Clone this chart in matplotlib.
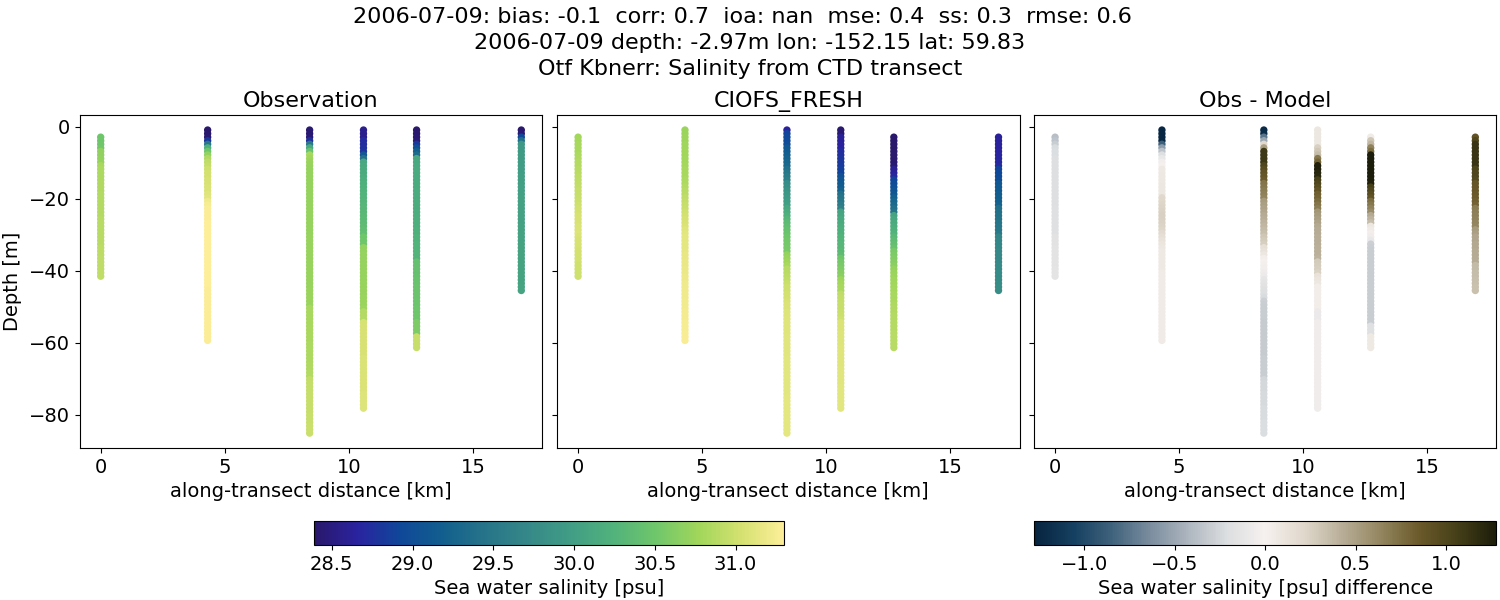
import numpy as np
import matplotlib
matplotlib.use("Agg")
from matplotlib import pyplot as plt
from matplotlib.colors import LinearSegmentedColormap, Normalize
from matplotlib.cm import ScalarMappable

OUTPUT_FILE = "out.png"

DISTANCE = [0.0, 4.31, 8.42, 10.59, 12.73, 16.95]

# depth of each model level, casts start at some level and run down
LEVELS = [-0.97, -1.96, -2.95, -3.94, -4.93, -5.92, -6.91, -7.90, -8.89, -9.88,
          -10.87, -11.86, -12.85, -13.84, -14.83, -15.82, -16.81, -17.80, -18.79, -19.78,
          -20.77, -21.76, -22.75, -23.74, -24.73, -25.72, -26.71, -27.70, -28.69, -29.68,
          -30.67, -31.66, -32.65, -33.64, -34.63, -35.62, -36.61, -37.60, -38.59, -39.58,
          -40.57, -41.56, -42.55, -43.54, -44.53, -45.52, -46.51, -47.50, -48.49, -49.48,
          -50.47, -51.46, -52.45, -53.44, -54.43, -55.42, -56.41, -57.40, -58.39, -59.38,
          -60.37, -61.36, -62.35, -63.34, -64.33, -65.32, -66.31, -67.30, -68.29, -69.28,
          -70.27, -71.26, -72.25, -73.24, -74.23, -75.22, -76.21, -77.20, -78.19, -79.18,
          -80.17, -81.16, -82.15, -83.14, -84.13, -85.12]

OBS_START = [2, 0, 0, 0, 0, 0]
MODEL_START = [2, 0, 0, 0, 2, 2]

OBS_0 = [30.50, 30.50, 30.51, 30.52, 30.68, 30.69, 30.70, 30.71,
         30.82, 30.83, 30.83, 30.84, 30.84, 30.85, 30.85, 30.85, 30.86, 30.86,
         30.86, 30.87, 30.87, 30.87, 30.87, 30.88, 30.88, 30.88, 30.88, 30.89,
         30.90, 30.90, 30.90, 30.91, 30.91, 30.91, 30.92, 30.92, 30.92, 30.92, 30.93, 30.93]
OBS_1 = [28.40, 28.40, 28.42, 28.80, 29.50, 30.20, 30.50, 30.70, 30.85, 30.92, 30.95,
         31.00, 31.02, 31.03, 31.05, 31.06, 31.07, 31.08, 31.10, 31.12,
         31.22, 31.25, 31.27, 31.28, 31.28, 31.28, 31.29, 31.29, 31.29, 31.29,
         31.29, 31.29, 31.29, 31.29, 31.29, 31.29, 31.29, 31.29, 31.29, 31.29,
         31.29, 31.29, 31.29, 31.29, 31.29, 31.28, 31.28, 31.28, 31.28, 31.28,
         31.28, 31.28, 31.28, 31.28, 31.28, 31.28, 31.28, 31.28, 31.28, 31.28]
OBS_2 = [28.42, 28.42, 28.45, 28.75, 29.50, 30.10, 30.45, 30.80,
         30.76, 30.74, 30.73, 30.72, 30.72, 30.72, 30.72, 30.72, 30.72, 30.72, 30.72,
         30.72, 30.72, 30.72, 30.72, 30.72, 30.72, 30.72, 30.72, 30.72, 30.72, 30.72,
         30.73, 30.73, 30.73, 30.73, 30.73, 30.73, 30.73, 30.73, 30.73, 30.73,
         30.73, 30.73, 30.73, 30.73, 30.73, 30.74, 30.74, 30.74, 30.74, 30.74,
         30.80, 30.80, 30.81, 30.81, 30.81, 30.82, 30.82, 30.82, 30.82, 30.82,
         30.83, 30.83, 30.83, 30.84, 30.84, 30.84, 30.85, 30.85, 30.86, 30.86,
         30.94, 30.95, 30.95, 30.95, 30.96, 30.96, 30.96, 30.97, 30.97, 30.97,
         30.98, 30.98, 30.98, 30.99, 30.99, 30.99]
OBS_3 = [28.55, 28.55, 28.56, 28.72, 28.74, 28.76, 28.78, 29.10, 29.40,
         30.10, 30.12, 30.14, 30.15, 30.17, 30.19, 30.21, 30.23, 30.24, 30.25, 30.26,
         30.27, 30.28, 30.30, 30.31, 30.32, 30.33, 30.34, 30.36, 30.38, 30.40,
         30.50, 30.50, 30.50,
         30.70, 30.70, 30.71, 30.71, 30.71, 30.72, 30.72, 30.72, 30.72, 30.72, 30.73,
         30.73, 30.73, 30.73, 30.74, 30.74, 30.74, 30.75,
         30.87, 30.87, 30.87,
         31.04, 31.04, 31.05, 31.05, 31.05, 31.05, 31.06, 31.06, 31.06, 31.06, 31.07, 31.07,
         31.07, 31.07, 31.07, 31.08, 31.08, 31.08, 31.08, 31.08, 31.09, 31.09, 31.09, 31.09, 31.09]
OBS_4 = [28.40, 28.40, 28.42, 28.45, 28.80, 29.00, 29.20, 29.35,
         30.10, 30.11, 30.12, 30.13, 30.13, 30.14, 30.14, 30.15, 30.15, 30.16, 30.16,
         30.16, 30.17, 30.17, 30.17, 30.18, 30.18, 30.19, 30.19, 30.19, 30.20, 30.20,
         30.24, 30.24, 30.25, 30.25, 30.25, 30.26, 30.26,
         30.42, 30.42, 30.43, 30.43, 30.44, 30.45, 30.45, 30.46, 30.46, 30.47, 30.47,
         30.48, 30.48, 30.49, 30.49, 30.50, 30.50,
         30.58, 30.58, 30.58, 30.58, 30.97, 30.97, 30.97, 30.97]
OBS_5 = [28.40, 28.45, 28.95, 29.40, 29.92, 29.93, 29.94, 29.95, 29.95, 29.96, 29.97, 29.98, 29.98, 29.99,
         30.00, 30.00, 30.01, 30.01, 30.01, 30.02, 30.02, 30.02, 30.02, 30.03, 30.03, 30.03,
         30.03, 30.04, 30.04, 30.04,
         30.04, 30.04, 30.05, 30.05, 30.05, 30.05, 30.05, 30.05, 30.06, 30.06, 30.06, 30.06,
         30.06, 30.06, 30.07, 30.07]

MODEL_0 = [30.78, 30.79, 30.80, 30.81, 30.82, 30.83, 30.85, 30.86, 30.87, 30.89,
           30.90, 30.91, 30.92, 30.93, 30.94, 30.96, 30.97, 30.98, 30.99, 31.00,
           31.02, 31.03, 31.04, 31.05, 31.06, 31.07, 31.08, 31.09,
           31.07, 31.06, 31.05, 31.04, 31.03, 31.03, 31.02, 31.02, 31.01, 31.01, 31.00, 31.00]
MODEL_1 = [30.74, 30.74, 30.75, 30.75, 30.76, 30.76, 30.77, 30.77, 30.78, 30.78, 30.79,
           30.80, 30.81, 30.82, 30.83, 30.84, 30.86, 30.88, 30.90, 30.92,
           30.94, 30.96, 30.98, 31.00, 31.02, 31.04, 31.06, 31.08, 31.10, 31.12,
           31.13, 31.13, 31.14, 31.14, 31.15, 31.16, 31.16, 31.17, 31.17, 31.18, 31.18, 31.19, 31.19, 31.20, 31.20,
           31.22, 31.22, 31.22, 31.23, 31.23, 31.23, 31.24, 31.24, 31.24, 31.25, 31.25, 31.25, 31.26, 31.26, 31.26]
MODEL_2 = [28.65, 28.90, 28.93, 28.95, 28.98, 29.10, 29.14, 29.18, 29.22, 29.26, 29.30,
           29.40, 29.47, 29.54, 29.60, 29.75, 29.80, 29.85, 29.90, 29.93, 29.96, 30.00,
           30.10, 30.16, 30.22, 30.28, 30.34, 30.38, 30.42, 30.45,
           30.50, 30.52, 30.53, 30.54, 30.55, 30.70, 30.74, 30.77, 30.80,
           30.88, 30.90, 30.91, 30.93, 30.98, 31.00, 31.01, 31.02, 31.03, 31.05,
           31.08, 31.08, 31.09, 31.09, 31.10, 31.10, 31.10, 31.10, 31.10, 31.11, 31.11, 31.11,
           31.11, 31.11, 31.11, 31.12, 31.12, 31.12, 31.12, 31.12, 31.12, 31.12, 31.12, 31.12,
           31.12, 31.12, 31.13, 31.13, 31.13, 31.13, 31.13, 31.13, 31.13, 31.13, 31.13, 31.13, 31.13]
MODEL_3 = [28.42, 28.42, 28.60, 28.62, 28.64, 28.66, 28.72, 28.75, 28.78, 28.80, 28.83, 28.86, 28.90,
           29.02, 29.08, 29.12, 29.16, 29.22, 29.40, 29.46, 29.50, 29.55, 29.62,
           30.05, 30.08, 30.12, 30.15, 30.18, 30.20, 30.22,
           30.25, 30.27, 30.29, 30.31, 30.33, 30.36, 30.50, 30.53, 30.56, 30.59, 30.62, 30.65,
           30.75, 30.78, 30.80, 30.82, 30.92, 30.94, 30.95, 30.96, 30.97, 30.98, 30.99, 31.00,
           31.08, 31.08, 31.08, 31.09, 31.09, 31.09, 31.09, 31.10, 31.10, 31.10, 31.10, 31.10, 31.10,
           31.11, 31.11, 31.11, 31.11, 31.11, 31.12, 31.12, 31.12, 31.12, 31.12, 31.12, 31.12]
MODEL_4 = [28.39, 28.39, 28.39, 28.40, 28.40, 28.40, 28.41, 28.41, 28.42, 28.58, 28.62, 28.68,
           28.90, 28.96, 29.00, 29.05, 29.10, 29.20, 29.26, 29.32, 29.38, 29.45,
           30.05, 30.10, 30.15, 30.18, 30.21, 30.24,
           30.32, 30.36, 30.40, 30.44, 30.55, 30.58, 30.60, 30.62, 30.65,
           30.72, 30.74, 30.75, 30.76, 30.77, 30.78, 30.79, 30.80, 30.81, 30.82,
           30.84, 30.85, 30.85, 30.86, 30.86, 30.87, 30.87, 30.87, 30.88, 30.88, 30.88, 30.89, 30.89]
MODEL_5 = [28.62, 28.63, 28.64, 28.65, 28.66, 28.67, 28.68, 28.69, 28.70,
           28.90, 28.93, 28.95, 28.97, 29.10, 29.12, 29.14, 29.16, 29.18, 29.20, 29.22,
           29.38, 29.40, 29.42, 29.44, 29.46, 29.48, 29.50, 29.52,
           29.68, 29.69, 29.70, 29.71, 29.72, 29.72, 29.73, 29.73, 29.74, 29.74, 29.75,
           29.75, 29.76, 29.76, 29.77, 29.77]

DIFF_0 = [-0.38, -0.35, -0.30, -0.22, -0.21, -0.21, -0.20, -0.20, -0.20, -0.20, -0.20, -0.20,
          -0.20, -0.20, -0.20, -0.20, -0.20, -0.20, -0.20, -0.20, -0.19, -0.19, -0.19, -0.19,
          -0.19, -0.19, -0.19, -0.19, -0.16, -0.16, -0.16, -0.15, -0.15, -0.15, -0.15, -0.15,
          -0.15, -0.14, -0.14, -0.14]
DIFF_1 = [-1.25, -1.25, -1.25, -1.25, -0.85, -0.55, -0.35, -0.20, -0.10, -0.03, 0.00,
          0.06, 0.06, 0.07, 0.07, 0.07, 0.08, 0.08, 0.08,
          0.20, 0.21, 0.22, 0.23, 0.24, 0.25, 0.25, 0.24, 0.23, 0.22,
          0.18, 0.15, 0.12, 0.10, 0.08,
          0.06, 0.06, 0.06, 0.06, 0.06, 0.06, 0.05, 0.05, 0.05, 0.05, 0.05, 0.05, 0.05,
          0.05, 0.05, 0.05, 0.05, 0.05, 0.05, 0.05, 0.05, 0.05, 0.05, 0.05, 0.05, 0.05]
DIFF_2 = [-1.22, -1.20, -0.75, -0.50, 0.20, 0.50, 1.10, 1.10, 1.10, 1.10,
          1.00, 0.95, 0.90, 0.88, 0.85, 0.72, 0.70, 0.68, 0.66, 0.64,
          0.52, 0.50, 0.48, 0.46, 0.44, 0.42, 0.40, 0.38, 0.36, 0.34,
          0.30, 0.28, 0.26, 0.15, 0.12, 0.08, 0.02, 0.00, -0.02, -0.03, -0.05, -0.07,
          -0.12, -0.14, -0.16, -0.18, -0.20, -0.22,
          -0.28, -0.29, -0.30, -0.30, -0.30, -0.30, -0.31, -0.31, -0.31, -0.31, -0.31,
          -0.31, -0.31, -0.31, -0.31, -0.31, -0.30, -0.30, -0.30, -0.30, -0.30, -0.30,
          -0.25, -0.24, -0.24, -0.24, -0.23, -0.23, -0.23, -0.23, -0.22, -0.22, -0.22,
          -0.22, -0.21, -0.21, -0.21, -0.21]
DIFF_3 = [0.08, 0.08, 0.08, 0.08, 0.08, 0.25, 0.30, 0.35, 0.70, 0.80,
          1.25, 1.25, 1.22, 1.20, 1.05, 1.00, 0.95, 0.90,
          0.82, 0.80, 0.76, 0.72, 0.68, 0.55, 0.52, 0.50, 0.48, 0.45,
          0.43, 0.43, 0.42, 0.42, 0.42, 0.41, 0.41, 0.41, 0.40,
          0.28, 0.27, 0.26, 0.24, 0.12, 0.10, 0.08,
          0.03, 0.03, 0.03, 0.03, 0.03, 0.03, 0.03, -0.08, -0.08, -0.08,
          -0.05, -0.05, -0.05, -0.05, -0.05, -0.05, -0.05, -0.05, -0.05, -0.05, -0.05, -0.05, -0.05,
          -0.05, -0.05, -0.05, -0.05, -0.05, -0.05, -0.05, -0.05, -0.05, -0.05, -0.05, -0.05]
DIFF_4 = [0.05, 0.30, 0.38, 0.65, 0.75, 1.28, 1.28, 1.28, 1.28, 1.28, 1.27, 1.27, 1.26, 1.25,
          1.05, 1.00, 0.95, 0.90, 0.75, 0.70, 0.65, 0.60, 0.45, 0.40, 0.35, 0.08, 0.05, 0.02,
          -0.05, -0.10,
          -0.28, -0.29, -0.30, -0.30, -0.30, -0.30, -0.30, -0.30, -0.30, -0.30, -0.30, -0.30,
          -0.30, -0.30, -0.30, -0.30, -0.30, -0.30, -0.30, -0.30, -0.30, -0.30, -0.30,
          -0.18, -0.18, -0.18, 0.06, 0.06, 0.06, 0.06]
DIFF_5 = [0.90, 1.00, 1.12, 1.12, 1.12, 1.12, 1.12, 1.12, 1.12, 1.02, 1.00, 1.00, 0.98,
          0.88, 0.87, 0.86, 0.85, 0.84, 0.82, 0.80,
          0.68, 0.67, 0.66, 0.65, 0.64, 0.63, 0.52, 0.50,
          0.46, 0.46, 0.45, 0.45, 0.44, 0.44, 0.43, 0.43,
          0.36, 0.36, 0.35, 0.35, 0.34, 0.34, 0.33, 0.33]

OBS = [OBS_0, OBS_1, OBS_2, OBS_3, OBS_4, OBS_5]
MODEL = [MODEL_0, MODEL_1, MODEL_2, MODEL_3, MODEL_4, MODEL_5]
DIFF = [DIFF_0, DIFF_1, DIFF_2, DIFF_3, DIFF_4, DIFF_5]

# cmocean is not installed, colours copied by eye
HALINE = ["#29186b", "#2a23a0", "#0f4799", "#125f8e", "#267489", "#358888",
          "#419d85", "#51b27c", "#6fc66b", "#a0d65b", "#d4e170", "#fdee99"]
DIFF_COLORS = ["#07243f", "#153f60", "#3f627c", "#7a8d9e", "#aeb6bf", "#dcdee0", "#f5f1ef",
               "#e0d8cc", "#b8ae98", "#93865f", "#6b5a2a", "#453f18", "#1c1d0a"]
haline = LinearSegmentedColormap.from_list("haline", HALINE)
diff_cmap = LinearSegmentedColormap.from_list("diff", DIFF_COLORS)

SAL_NORM = Normalize(28.39, 31.30)
DIFF_NORM = Normalize(-1.277, 1.277)

plt.rcParams["font.size"] = 14

fig = plt.figure(figsize=(15, 6), dpi=100)


def px_axes(left, top, right, bottom, **kw):
    return fig.add_axes([left / 1500, 1 - bottom / 600, (right - left) / 1500, (bottom - top) / 600], **kw)


ax1 = px_axes(79.6, 115, 542.4, 448.2)
ax2 = px_axes(557, 115, 1019.6, 448.2, sharey=ax1, sharex=ax1)
ax3 = px_axes(1034, 115, 1496.4, 448.2, sharey=ax1, sharex=ax1)
cax1 = px_axes(314, 521, 784, 545)
cax2 = px_axes(1034, 521, 1496.4, 545)


def draw_casts(ax, casts, starts, cmap, norm):
    for x, values, start in zip(DISTANCE, casts, starts):
        depth = LEVELS[start:start + len(values)]
        ax.scatter([x] * len(values), depth, c=values, cmap=cmap, norm=norm, s=28, linewidths=0)


draw_casts(ax1, OBS, OBS_START, haline, SAL_NORM)
draw_casts(ax2, MODEL, MODEL_START, haline, SAL_NORM)
draw_casts(ax3, DIFF, MODEL_START, diff_cmap, DIFF_NORM)

ax1.set_xlim(-0.85, 17.8)
ax1.set_ylim(-89.3, 3.2)
ax1.set_xticks([0, 5, 10, 15])
ax1.set_yticks([0, -20, -40, -60, -80])
ax1.set_ylabel("Depth [m]", labelpad=5)
for ax, title in zip([ax1, ax2, ax3], ["Observation", "CIOFS_FRESH", "Obs - Model"]):
    ax.set_title(title, fontsize=16, pad=6)
    ax.set_xlabel("along-transect distance [km]")
for ax in [ax2, ax3]:
    ax.tick_params(labelleft=False)

cb1 = fig.colorbar(ScalarMappable(norm=SAL_NORM, cmap=haline), cax=cax1, orientation="horizontal")
cb1.set_label("Sea water salinity [psu]")
cb2 = fig.colorbar(ScalarMappable(norm=DIFF_NORM, cmap=diff_cmap), cax=cax2, orientation="horizontal")
cb2.set_label("Sea water salinity [psu] difference")

fig.text(0.5, 0.989,
         "2006-07-09: bias: -0.1  corr: 0.7  ioa: nan  mse: 0.4  ss: 0.3  rmse: 0.6  \n"
         "2006-07-09 depth: -2.97m lon: -152.15 lat: 59.83\n"
         "Otf Kbnerr: Salinity from CTD transect",
         ha="center", va="top", fontsize=16, linespacing=1.4)

fig.savefig(OUTPUT_FILE)
